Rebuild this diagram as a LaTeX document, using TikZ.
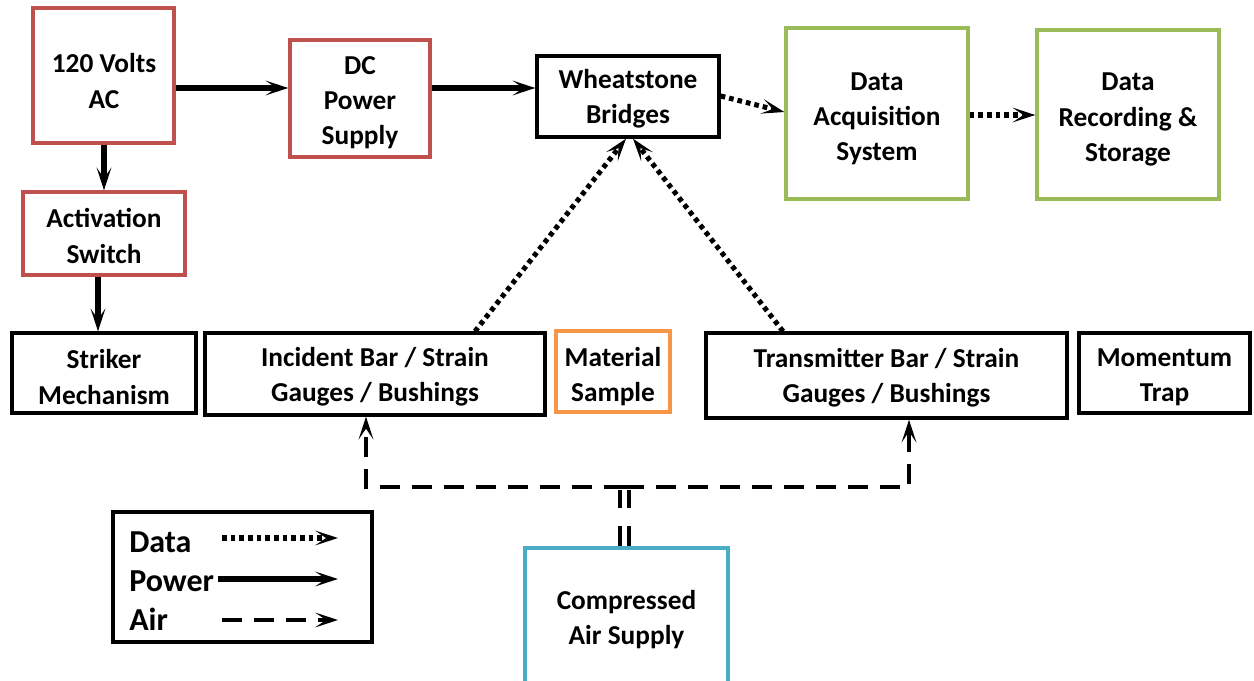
\documentclass[tikz,border=0pt]{standalone}
\usepackage{fontspec}
\setmainfont{Carlito}
\usetikzlibrary{arrows.meta}
\definecolor{cred}{HTML}{C0504D}
\definecolor{cgreen}{HTML}{9BBB59}
\definecolor{corange}{HTML}{F79646}
\definecolor{cblue}{HTML}{4BACC6}
\tikzset{
  box/.style={draw=black, line width=2.5pt, inner sep=0pt},
  txt/.style={inner sep=0pt, align=center, font=\bfseries\fontsize{20.5}{26.3}\selectfont},
  tip/.style={-{Stealth[length=17pt,width=11pt,inset=8pt]}},
  power/.style={tip, line width=3.8pt},
  data/.style={tip, line width=3.8pt, dash pattern=on 3.5pt off 3pt},
  air/.style={tip, line width=3.4pt, dash pattern=on 15pt off 9pt},
  airdbl/.style={line width=3.4pt, dash pattern=on 15pt off 13.5pt},
  legtext/.style={anchor=base west, inner sep=0pt, font=\bfseries\fontsize{24}{28}\selectfont}
}
\begin{document}
\begin{tikzpicture}[x=0.75pt,y=-0.75pt]
\useasboundingbox (0,0) rectangle (1254,681);
% boxes
\node[box, draw=cred, minimum width=105.75pt, minimum height=101.25pt] (ac) at (103.5,75.5) {};
\node[box, draw=cred, minimum width=121.5pt, minimum height=62.25pt] (act) at (104,233.5) {};
\node[box, draw=cred, minimum width=105pt, minimum height=87.75pt] (dc) at (360,98.5) {};
\node[box, minimum width=136.5pt, minimum height=60.75pt] (wb) at (628,96.5) {};
\node[box, draw=cgreen, minimum width=136.5pt, minimum height=128.25pt] (daq) at (877,113.5) {};
\node[box, draw=cgreen, minimum width=136.5pt, minimum height=126.75pt] (drs) at (1128,114.5) {};
\node[box, minimum width=138pt, minimum height=60pt] (sm) at (104,373) {};
\node[box, minimum width=255pt, minimum height=61.5pt] (ib) at (375,374) {};
\node[box, draw=corange, minimum width=85.5pt, minimum height=60.75pt] (ms) at (613,371.5) {};
\node[box, minimum width=270.75pt, minimum height=63.75pt] (tb) at (886.5,375.5) {};
\node[box, minimum width=128.25pt, minimum height=60pt] (mt) at (1164.5,373) {};
\node[box, draw=cblue, minimum width=152.25pt, minimum height=103.5pt] (cas) at (626.5,617) {};
% texts
\node[txt] (acT) at (104,81) {120 Volts\\AC};
\node[txt] (actT) at (104,236) {Activation\\Switch};
\node[txt] (dcT) at (360,102.5) {DC\\Power\\Supply};
\node[txt] (wbT) at (628,99) {Wheatstone\\Bridges};
\node[txt] (daqT) at (877,118.5) {Data\\Acquisition\\System};
\node[txt] (drsT) at (1128,119.5) {Data\\Recording \&\\Storage};
\node[txt] (smT) at (104,377) {Striker\\Mechanism};
\node[txt] (ibT) at (375,377) {Incident Bar / Strain\\Gauges / Bushings};
\node[txt] (msT) at (613,377) {Material\\Sample};
\node[txt] (tbT) at (886.5,378) {Transmitter Bar / Strain\\Gauges / Bushings};
\node[txt] (mtT) at (1164.5,377) {Momentum\\Trap};
\node[txt] (casT) at (626.5,619.5) {Compressed\\Air Supply};
% power connectors
\draw[power] (ac.east |- 0,88) -- (dc.west |- 0,88);
\draw[power] (dc.east |- 0,88) -- (wb.west |- 0,88);
\draw[power] (ac.south -| 104,0) -- (act.north -| 104,0);
\draw[power] (act.south -| 98,0) -- (sm.north -| 98,0);
% data connectors
\draw[data] (wb.east |- 0,96) -- (daq.west |- 0,112);
\draw[data] (daq.east |- 0,115) -- (drs.west |- 0,115);
\draw[data] (ib.north -| 475,0) -- (wb.south -| 626,0);
\draw[data] (tb.north -| 783,0) -- (wb.south -| 633,0);
% air connectors
\coordinate (j) at (624,487);
\draw[airdbl] (cas.north -| 620,0) -- (620,490);
\draw[airdbl] (cas.north -| 629,0) -- (629,490);
\draw[air] (j) -| (ib.south -| 366,0);
\draw[air] (j) -| (tb.south -| 909,0);
% legend
\node[draw=black, line width=3.5pt, minimum width=194.25pt, minimum height=97.5pt, inner sep=0pt] (leg) at (242.5,577) {};
\node[legtext] (ld) at (129,552) {Data};
\node[legtext] (lp) at (129,591) {Power};
\node[legtext] (la) at (129,630) {Air};
\coordinate (d1) at (222,538); \coordinate (d2) at (338,538);
\coordinate (p1) at (218,579); \coordinate (p2) at (338,579);
\coordinate (a1) at (222,620); \coordinate (a2) at (338,620);
\draw[data] (d1) -- (d2);
\draw[power] (p1) -- (p2);
\draw[air] (a1) -- (a2);
\end{tikzpicture}
\end{document}
